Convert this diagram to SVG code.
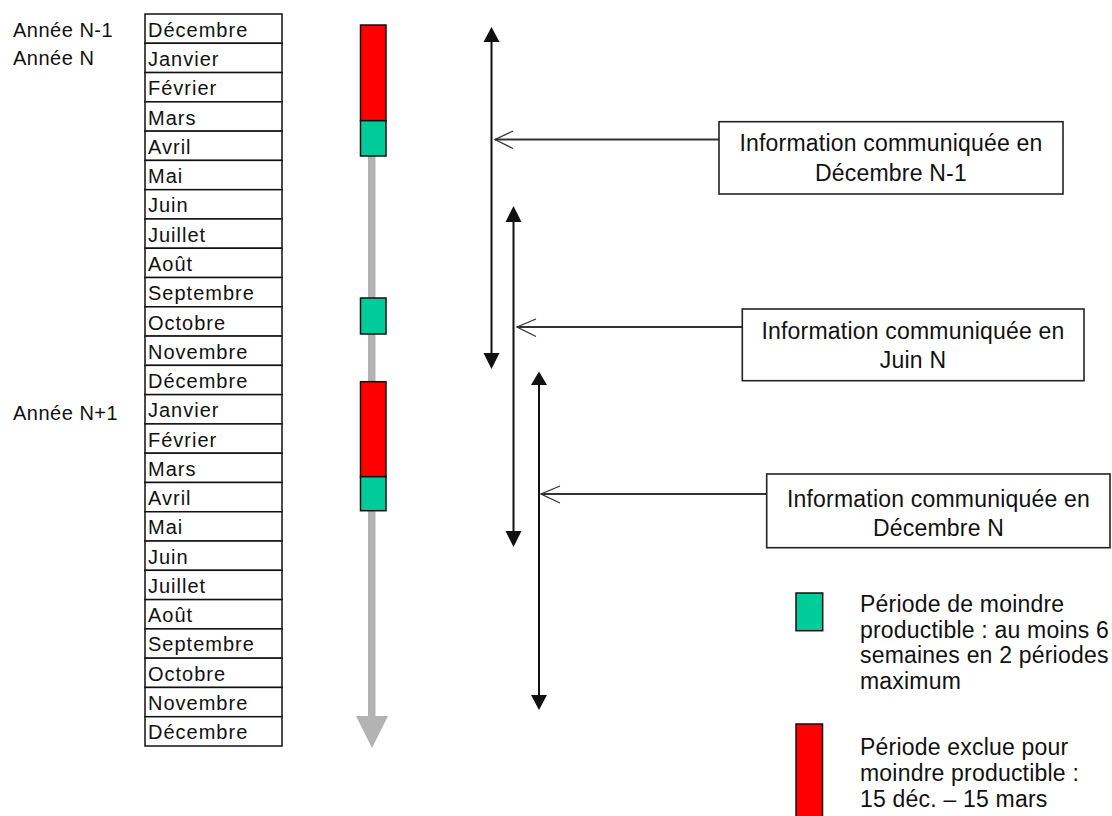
<svg xmlns="http://www.w3.org/2000/svg" width="1112" height="816" viewBox="0 0 1112 816">
<defs>
<style>
.t{font-family:"Liberation Sans",Arial,sans-serif;fill:#111}
.m{font-size:20px;letter-spacing:1px}
.y{font-size:20px;letter-spacing:0.5px}
.b{font-size:23px;letter-spacing:0.2px;text-anchor:middle}
.l{font-size:23px;letter-spacing:0.2px}
.cell{fill:#fff;stroke:#111;stroke-width:1.5}
.box{fill:#fff;stroke:#222;stroke-width:1.6}
.red{fill:#ff0000;stroke:#111;stroke-width:1.5}
.grn{fill:#00cc99;stroke:#111;stroke-width:1.5}
.va{stroke:#111;stroke-width:2;fill:none}
.con{stroke:#333;stroke-width:2;fill:none}
.head{stroke:#333;stroke-width:1.3;fill:none}
</style>
</defs>
<rect width="1112" height="816" fill="#fff"/>

<g id="years">
<text class="t y" x="13" y="37">Année N-1</text>
<text class="t y" x="13" y="65">Année N</text>
<text class="t y" x="13" y="420">Année N+1</text>
</g>

<g id="months">
<g id="m01"><rect class="cell" x="145" y="14" width="137" height="29.28"/><text class="t m" x="148" y="37">Décembre</text></g>
<g id="m02"><rect class="cell" x="145" y="43.28" width="137" height="29.28"/><text class="t m" x="148" y="66">Janvier</text></g>
<g id="m03"><rect class="cell" x="145" y="72.56" width="137" height="29.28"/><text class="t m" x="148" y="95">Février</text></g>
<g id="m04"><rect class="cell" x="145" y="101.84" width="137" height="29.28"/><text class="t m" x="148" y="124.5">Mars</text></g>
<g id="m05"><rect class="cell" x="145" y="131.12" width="137" height="29.28"/><text class="t m" x="148" y="153.5">Avril</text></g>
<g id="m06"><rect class="cell" x="145" y="160.4" width="137" height="29.28"/><text class="t m" x="148" y="183">Mai</text></g>
<g id="m07"><rect class="cell" x="145" y="189.68" width="137" height="29.28"/><text class="t m" x="148" y="212">Juin</text></g>
<g id="m08"><rect class="cell" x="145" y="218.96" width="137" height="29.28"/><text class="t m" x="148" y="241.5">Juillet</text></g>
<g id="m09"><rect class="cell" x="145" y="248.24" width="137" height="29.28"/><text class="t m" x="148" y="270.5">Août</text></g>
<g id="m10"><rect class="cell" x="145" y="277.52" width="137" height="29.28"/><text class="t m" x="148" y="300">Septembre</text></g>
<g id="m11"><rect class="cell" x="145" y="306.8" width="137" height="29.28"/><text class="t m" x="148" y="329.5">Octobre</text></g>
<g id="m12"><rect class="cell" x="145" y="336.08" width="137" height="29.28"/><text class="t m" x="148" y="358.5">Novembre</text></g>
<g id="m13"><rect class="cell" x="145" y="365.36" width="137" height="29.28"/><text class="t m" x="148" y="388">Décembre</text></g>
<g id="m14"><rect class="cell" x="145" y="394.64" width="137" height="29.28"/><text class="t m" x="148" y="417">Janvier</text></g>
<g id="m15"><rect class="cell" x="145" y="423.92" width="137" height="29.28"/><text class="t m" x="148" y="446.5">Février</text></g>
<g id="m16"><rect class="cell" x="145" y="453.2" width="137" height="29.28"/><text class="t m" x="148" y="476">Mars</text></g>
<g id="m17"><rect class="cell" x="145" y="482.48" width="137" height="29.28"/><text class="t m" x="148" y="505">Avril</text></g>
<g id="m18"><rect class="cell" x="145" y="511.76" width="137" height="29.28"/><text class="t m" x="148" y="534">Mai</text></g>
<g id="m19"><rect class="cell" x="145" y="541.04" width="137" height="29.28"/><text class="t m" x="148" y="563.5">Juin</text></g>
<g id="m20"><rect class="cell" x="145" y="570.32" width="137" height="29.28"/><text class="t m" x="148" y="593">Juillet</text></g>
<g id="m21"><rect class="cell" x="145" y="599.6" width="137" height="29.28"/><text class="t m" x="148" y="622">Août</text></g>
<g id="m22"><rect class="cell" x="145" y="628.88" width="137" height="29.28"/><text class="t m" x="148" y="651">Septembre</text></g>
<g id="m23"><rect class="cell" x="145" y="658.16" width="137" height="29.28"/><text class="t m" x="148" y="680.5">Octobre</text></g>
<g id="m24"><rect class="cell" x="145" y="687.44" width="137" height="29.28"/><text class="t m" x="148" y="710">Novembre</text></g>
<g id="m25"><rect class="cell" x="145" y="716.72" width="137" height="29.28"/><text class="t m" x="148" y="739">Décembre</text></g>
</g>

<g id="timeline">
<rect x="368" y="25" width="7.5" height="692" fill="#b3b3b3"/>
<polygon points="356,716 388,716 372,748" fill="#b3b3b3"/>
<rect class="red" x="360.5" y="25" width="25.5" height="95.7"/>
<rect class="grn" x="360.5" y="120.7" width="25.5" height="35.3"/>
<rect class="grn" x="360.5" y="298" width="25.5" height="36"/>
<rect class="red" x="360.5" y="381.7" width="25.5" height="95"/>
<rect class="grn" x="360.5" y="476.7" width="25.5" height="34"/>
</g>

<g id="spans">
<line class="va" x1="491.5" y1="40" x2="491.5" y2="355"/>
<polygon points="491.5,27 483.5,42 499.5,42" fill="#111"/>
<polygon points="491.5,369 483.5,353 499.5,353" fill="#111"/>
<line class="va" x1="513.5" y1="220" x2="513.5" y2="533"/>
<polygon points="513.5,206 505.5,222 521.5,222" fill="#111"/>
<polygon points="513.5,547 505.5,531 521.5,531" fill="#111"/>
<line class="va" x1="539" y1="384" x2="539" y2="696"/>
<polygon points="539,371.5 531,385 547,385" fill="#111"/>
<polygon points="539,710 531,695 547,695" fill="#111"/>
</g>

<g id="connectors">
<line class="con" x1="719" y1="139.5" x2="495" y2="139.5"/>
<polyline class="head" points="513,131 495,139.5 513,148.5"/>
<line class="con" x1="742" y1="327" x2="517" y2="327"/>
<polyline class="head" points="536,319 517,327 536,336.5"/>
<line class="con" x1="767" y1="494" x2="541" y2="494"/>
<polyline class="head" points="560,486 541,494 560,503"/>
</g>

<g id="box1">
<rect class="box" x="719" y="121.7" width="344" height="72.3"/>
<text class="t b" x="891" y="150.7">Information communiquée en</text>
<text class="t b" x="891" y="180.5">Décembre N-1</text>
</g>
<g id="box2">
<rect class="box" x="742.3" y="309" width="341.7" height="71.7"/>
<text class="t b" x="913" y="339">Information communiquée en</text>
<text class="t b" x="913" y="368">Juin N</text>
</g>
<g id="box3">
<rect class="box" x="766.7" y="474" width="343.3" height="73.7"/>
<text class="t b" x="938.5" y="506.7">Information communiquée en</text>
<text class="t b" x="938.5" y="535.5">Décembre N</text>
</g>

<g id="legend-green">
<rect class="grn" x="796" y="593" width="26.7" height="37.7"/>
<text class="t l" x="860" y="612">Période de moindre</text>
<text class="t l" x="860" y="637.5">productible : au moins 6</text>
<text class="t l" x="860" y="663">semaines en 2 périodes</text>
<text class="t l" x="860" y="688.5">maximum</text>
</g>
<g id="legend-red">
<rect class="red" x="796" y="724" width="26.5" height="100"/>
<text class="t l" x="860" y="755">Période exclue pour</text>
<text class="t l" x="860" y="781">moindre productible :</text>
<text class="t l" x="860" y="807">15 déc. – 15 mars</text>
</g>
</svg>
